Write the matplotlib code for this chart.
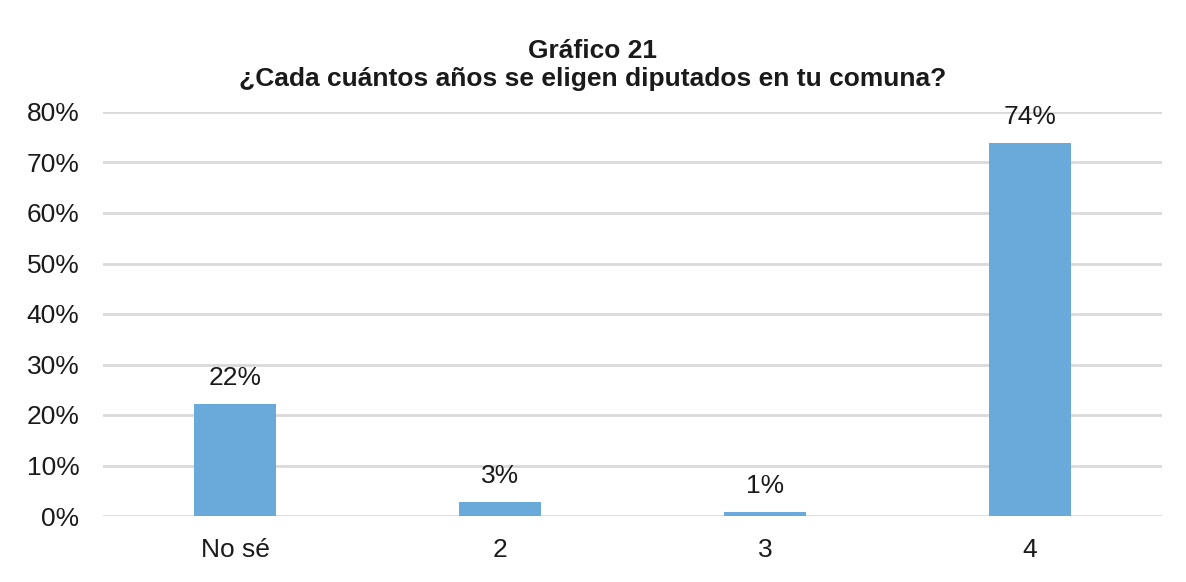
import matplotlib
matplotlib.use("Agg")
import matplotlib.pyplot as plt
from matplotlib.ticker import PercentFormatter

categories = ["No sé", "2", "3", "4"]
values = [22.2, 2.8, 0.8, 73.9]
labels = ["22%", "3%", "1%", "74%"]
yticks = [0, 10, 20, 30, 40, 50, 60, 70, 80]

plt.rcParams['font.family'] = ['Liberation Sans', 'DejaVu Sans']

fig = plt.figure(figsize=(11.86, 5.82), dpi=100)
ax = fig.add_axes([103/1186, 1-516/582, (1162-103)/1186, (516-112)/582])

x = list(range(len(categories)))
bars = ax.bar(x, values, width=0.31, color="#6aaadb", zorder=3)
for xi, v, lab in zip(x, values, labels):
    ax.annotate(lab, (xi, v), xytext=(0, 10), textcoords="offset points",
                ha="center", va="bottom", fontsize=19, color="#1a1a1a")

ax.set_xlim(-0.5, len(categories) - 0.5)
ax.set_ylim(0, 80)
ax.set_yticks(yticks)
ax.yaxis.set_major_formatter(PercentFormatter(decimals=0))
ax.set_xticks(x)
ax.set_xticklabels(categories)
ax.tick_params(axis="both", length=0, labelsize=19, colors="#1a1a1a")
ax.tick_params(axis="x", pad=16)
ax.tick_params(axis="y", pad=17)
ax.grid(axis="y", color="#d9d9d9", linewidth=2, zorder=0)
for s in ax.spines.values():
    s.set_visible(False)

fig.text(0.5, 1-51/582, "Gráfico 21", ha="center", va="center",
         fontsize=19, fontweight="bold", color="#1a1a1a")
fig.text(0.5, 1-79/582, "¿Cada cuántos años se eligen diputados en tu comuna?",
         ha="center", va="center", fontsize=19, fontweight="bold", color="#1a1a1a")

fig.savefig("out.png", dpi=100)
